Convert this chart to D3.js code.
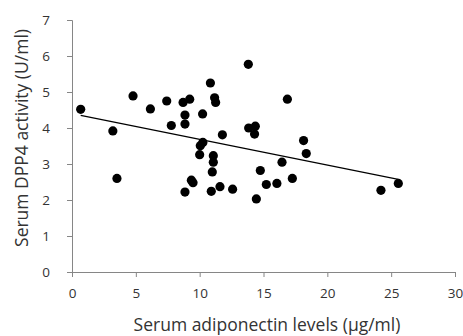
<!DOCTYPE html>
<html>
<head>
<meta charset="utf-8">
<script src="https://cdn.jsdelivr.net/npm/d3@7"></script>
<style>
  body { margin: 0; background: #fff; }
  text { font-family: "Open Sans", Lato, sans-serif; }
</style>
</head>
<body>
<div id="wrapper"></div>
<script>
// adiponectin (x) vs DPP4 activity (y)
const adiponectin = [0.68, 3.2, 3.52, 4.78, 6.14, 7.42, 7.78, 8.7, 9.22, 8.85, 8.85, 8.85,
  9.35, 9.48, 10.0, 10.05, 10.25, 10.23, 10.84, 11.17, 11.25, 11.07, 11.07, 10.99, 10.91,
  11.59, 11.78, 12.58, 13.81, 13.84, 14.36, 14.3, 14.44, 14.75, 15.22, 16.05, 16.45, 16.87,
  17.26, 18.14, 18.35, 24.2, 25.56]
const dpp4 = [4.52, 3.92, 2.6, 4.89, 4.53, 4.75, 4.07, 4.71, 4.8, 4.36, 4.11, 2.22,
  2.55, 2.48, 3.26, 3.51, 3.6, 4.39, 5.25, 4.84, 4.71, 3.23, 3.05, 2.78, 2.24,
  2.37, 3.81, 2.3, 5.77, 4.0, 4.05, 3.83, 2.03, 2.82, 2.43, 2.46, 3.05, 4.8,
  2.6, 3.65, 3.29, 2.27, 2.46]
const xTicks = [0, 5, 10, 15, 20, 25, 30]
const yTicks = [0, 1, 2, 3, 4, 5, 6, 7]
// linear trend line as drawn in the figure
const trendIntercept = 4.40
const trendSlope = -0.0715

const dataset = adiponectin.map((x, i) => ({ x: x, y: dpp4[i] }))

const dimensions = {
  width: 463,
  height: 336,
  margin: { top: 20, right: 8, bottom: 64, left: 72 },
}
dimensions.boundedWidth = dimensions.width - dimensions.margin.left - dimensions.margin.right
dimensions.boundedHeight = dimensions.height - dimensions.margin.top - dimensions.margin.bottom

const xScale = d3.scaleLinear().domain([0, 30]).range([0, 383])
const yScale = d3.scaleLinear().domain([0, 7]).range([dimensions.boundedHeight, 0])

const svg = d3.select('#wrapper')
  .append('svg')
  .attr('width', dimensions.width)
  .attr('height', dimensions.height)

const bounds = svg.append('g')
  .attr('transform', `translate(${dimensions.margin.left}, ${dimensions.margin.top})`)

// axes
const xAxis = bounds.append('g')
  .attr('transform', `translate(0, ${dimensions.boundedHeight})`)
  .call(d3.axisBottom(xScale).tickValues(xTicks).tickFormat(d3.format('d')).tickSize(5).tickPadding(11))
const yAxis = bounds.append('g')
  .call(d3.axisLeft(yScale).tickValues(yTicks).tickFormat(d3.format('d')).tickSize(5).tickPadding(17))

;[xAxis, yAxis].forEach((ax) => {
  ax.select('.domain').attr('stroke', '#868686')
  ax.selectAll('.tick line').attr('stroke', '#868686')
  ax.selectAll('.tick text')
    .attr('fill', '#333')
    .style('font-size', '13.5px')
})

// points
bounds.append('g')
  .selectAll('circle')
  .data(dataset)
  .enter()
  .append('circle')
  .attr('cx', (d) => xScale(d.x))
  .attr('cy', (d) => yScale(d.y))
  .attr('r', 4.6)
  .attr('fill', '#000')

// trend line over the x range of the data
const xExtent = d3.extent(adiponectin)
bounds.append('line')
  .attr('x1', xScale(xExtent[0]))
  .attr('y1', yScale(trendIntercept + trendSlope * xExtent[0]))
  .attr('x2', xScale(xExtent[1]))
  .attr('y2', yScale(trendIntercept + trendSlope * xExtent[1]))
  .attr('stroke', '#000')
  .attr('stroke-width', 1.2)

// axis titles
svg.append('text')
  .attr('x', 267)
  .attr('y', 331)
  .attr('text-anchor', 'middle')
  .attr('fill', '#333')
  .style('font-size', '17.5px')
  .text('Serum adiponectin levels (µg/ml)')

svg.append('text')
  .attr('transform', 'rotate(-90)')
  .attr('x', -138)
  .attr('y', 28)
  .attr('text-anchor', 'middle')
  .attr('fill', '#333')
  .style('font-size', '17.5px')
  .text('Serum DPP4 activity (U/ml)')
</script>
</body>
</html>
